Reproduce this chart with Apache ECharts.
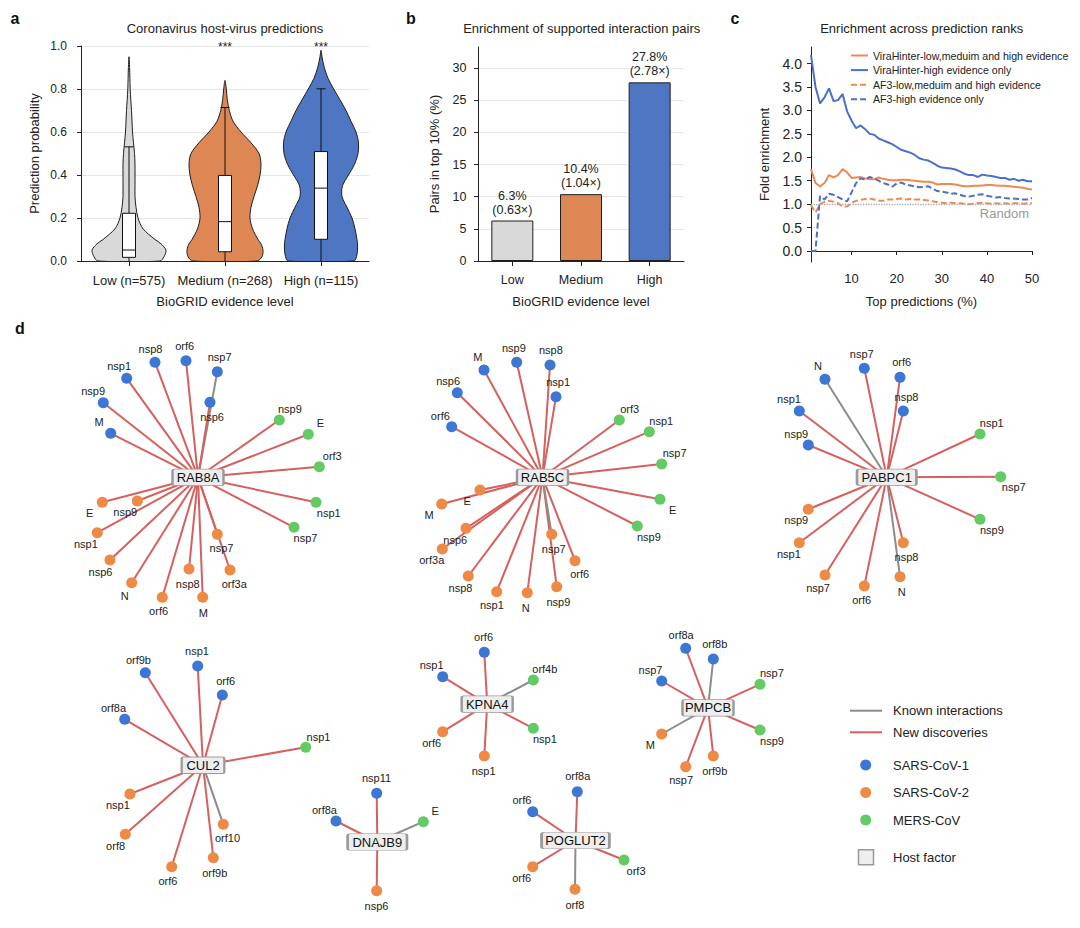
<!DOCTYPE html>
<html><head><meta charset="utf-8">
<script src="https://cdn.jsdelivr.net/npm/echarts@6/dist/echarts.min.js"></script>
<style>html,body{margin:0;padding:0;background:#fff}#c{width:1080px;height:928px}</style>
</head><body><div id="c"></div>
<script>
const FONT = '"Liberation Sans", Arial, Helvetica, sans-serif';

// ---------- Panel a data ----------
const evidenceCats = ['Low (n=575)', 'Medium (n=268)', 'High (n=115)'];
const violinLevels = [0,0.02,0.05,0.08,0.1,0.15,0.2,0.25,0.3,0.35,0.4,0.45,0.5,0.55,0.6,0.65,0.7,0.75,0.8,0.85,0.9,0.95];
const violinTop = [0.95, 0.84, 0.98];
const lowDensity    = [31,35,37,32,26,14,9,7,6,6,6,6,5.5,4.5,3.5,3,2.5,1.8,1.2,0.9,0.6,0];
const mediumDensity = [32,37,38,36,33,27.5,25,26,29,32.5,35,36,34,26,16,8,4.3,2.3,1.3,0,0,0];
const highDensity   = [33,35.5,36.5,36.5,36,34,31,26,21,21.5,27.5,33.5,37,37.5,35,30,25,19,12.7,7,3.3,1];
// [lower whisker, q1, median, q3, upper whisker]
const lowBox    = [0, 0.017, 0.051, 0.222, 0.531];
const mediumBox = [0, 0.043, 0.183, 0.398, 0.714];
const highBox   = [0, 0.101, 0.339, 0.509, 0.801];
const significance = ['', '***', '***'];

// ---------- Panel b data ----------
const barCats = ['Low', 'Medium', 'High'];
const pairsTop10 = [6.3, 10.4, 27.8];
const foldEnrich = [0.63, 1.04, 2.78];

// ---------- Panel c data ----------
const topPct = [1,2,3,4,5,6,7,8,9,10,11,12,13,14,15,16,17,18,19,20,21,22,23,24,25,26,27,28,29,30,31,32,33,34,35,36,37,38,39,40,41,42,43,44,45,46,47,48,49,50];
const viraAll  = [1.75,1.45,1.38,1.45,1.62,1.57,1.62,1.75,1.68,1.56,1.57,1.58,1.55,1.53,1.53,1.57,1.54,1.52,1.51,1.51,1.52,1.52,1.51,1.50,1.49,1.48,1.48,1.46,1.42,1.43,1.43,1.43,1.42,1.40,1.38,1.38,1.39,1.39,1.40,1.41,1.41,1.40,1.39,1.39,1.38,1.37,1.36,1.35,1.33,1.31];
const viraHigh = [4.18,3.50,3.15,3.28,3.47,3.20,3.22,3.35,2.98,2.78,2.62,2.68,2.60,2.50,2.48,2.40,2.36,2.32,2.28,2.22,2.16,2.13,2.10,2.05,1.98,1.95,1.93,1.88,1.82,1.78,1.77,1.76,1.74,1.70,1.65,1.62,1.62,1.58,1.63,1.61,1.60,1.58,1.56,1.56,1.52,1.54,1.50,1.52,1.49,1.49];
const af3All   = [0.98,0.82,1.00,1.05,1.07,1.05,1.02,0.95,0.95,1.03,1.07,1.09,1.11,1.12,1.10,1.07,1.07,1.10,1.10,1.11,1.12,1.10,1.11,1.10,1.10,1.09,1.08,1.06,1.04,1.03,1.02,1.03,1.02,1.02,1.01,1.00,1.01,1.02,1.03,1.02,1.01,1.02,1.01,1.02,1.01,1.02,1.02,1.01,1.02,1.02];
const af3High  = [0.00,0.00,1.17,1.10,1.22,1.20,1.15,1.10,1.06,1.25,1.45,1.55,1.52,1.58,1.55,1.50,1.45,1.42,1.37,1.44,1.46,1.42,1.40,1.38,1.36,1.37,1.38,1.33,1.28,1.27,1.25,1.22,1.23,1.20,1.17,1.16,1.18,1.20,1.21,1.18,1.16,1.14,1.15,1.13,1.12,1.12,1.11,1.10,1.10,1.13];
const lineNames = ['ViraHinter-low,meduim and high evidence','ViraHinter-high evidence only','AF3-low,meduim and high evidence','AF3-high evidence only'];
const randomLevel = 1.0;
const yTicksC = [0,0.5,1,1.5,2,2.5,3,3.5,4];
const xTicksC = [10,20,30,40,50];

// ---------- Panel d data ----------
const virusNames = ['SARS-CoV-1', 'SARS-CoV-2', 'MERS-CoV'];
const hubNames = ['RAB8A','RAB5C','PABPC1','CUL2','KPNA4','DNAJB9','POGLUT2','PMPCB'];
const hubX = [198, 542.5, 886.7, 203, 487.2, 377.3, 575.5, 708];
const hubY = [477.3, 477.3, 477.3, 765.3, 704.2, 842, 840.5, 707.8];
// [viral protein, virus, x, y, known(1)/new(0)]
const rab8aPartners = [
 ['nsp8','SARS-CoV-1',155,362.3,0],['orf6','SARS-CoV-1',186,360.7,0],['nsp7','SARS-CoV-1',217.3,371.7,1],
 ['nsp1','SARS-CoV-1',126.7,378.3,0],['nsp9','SARS-CoV-1',103.3,402.7,0],['M','SARS-CoV-1',110.7,433.3,0],
 ['nsp6','SARS-CoV-1',210,402.3,0],
 ['nsp9','MERS-CoV',279.3,420,0],['E','MERS-CoV',308.3,434.3,0],['orf3','MERS-CoV',319.3,466.7,0],
 ['nsp1','MERS-CoV',316,502.3,0],['nsp7','MERS-CoV',294,527.3,0],
 ['E','SARS-CoV-2',102.3,502.3,0],['nsp9','SARS-CoV-2',137.3,501,0],['nsp1','SARS-CoV-2',97.3,532.7,0],
 ['nsp6','SARS-CoV-2',110,560,0],['N','SARS-CoV-2',131.7,582.7,0],['orf6','SARS-CoV-2',162.3,597.3,0],
 ['nsp8','SARS-CoV-2',189,569,0],['M','SARS-CoV-2',202.7,597.3,0],['nsp7','SARS-CoV-2',217.3,534.3,0],
 ['orf3a','SARS-CoV-2',230,570,0]
];
const rab5cPartners = [
 ['M','SARS-CoV-1',484,370,0],['nsp9','SARS-CoV-1',516.7,362.3,0],['nsp8','SARS-CoV-1',550,365,0],
 ['nsp1','SARS-CoV-1',556,396.7,0],['nsp6','SARS-CoV-1',457.3,392.7,0],['orf6','SARS-CoV-1',451.7,426.7,0],
 ['orf3','MERS-CoV',619.3,420,0],['nsp1','MERS-CoV',649.3,431.7,0],['nsp7','MERS-CoV',661.7,464,0],
 ['E','MERS-CoV',660,499.3,0],['nsp9','MERS-CoV',637.3,526,0],
 ['E','SARS-CoV-2',480,490,0],['M','SARS-CoV-2',441.7,504,0],['nsp6','SARS-CoV-2',466,528.3,0],
 ['orf3a','SARS-CoV-2',442.3,549,0],['nsp8','SARS-CoV-2',468.3,576,0],['nsp1','SARS-CoV-2',496.7,591.7,0],
 ['N','SARS-CoV-2',527.3,592.7,0],['nsp9','SARS-CoV-2',556.7,586.7,0],['nsp7','SARS-CoV-2',551.7,534.3,1],
 ['orf6','SARS-CoV-2',575,560.7,0]
];
const pabpc1Partners = [
 ['N','SARS-CoV-1',825,379.3,1],['nsp7','SARS-CoV-1',864.3,368.3,0],['orf6','SARS-CoV-1',900,377.3,0],
 ['nsp8','SARS-CoV-1',903.3,411,0],['nsp1','SARS-CoV-1',799.3,411,0],['nsp9','SARS-CoV-1',808.3,445,0],
 ['nsp1','MERS-CoV',980,434,0],['nsp7','MERS-CoV',1000.7,476.7,0],['nsp9','MERS-CoV',980,519.3,0],
 ['nsp9','SARS-CoV-2',808.3,509.3,0],['nsp1','SARS-CoV-2',799.3,542.7,0],['nsp7','SARS-CoV-2',825,575,0],
 ['orf6','SARS-CoV-2',864.3,586,0],['N','SARS-CoV-2',900,576.7,1],['nsp8','SARS-CoV-2',903.3,542.7,0]
];
const cul2Partners = [
 ['orf9b','SARS-CoV-1',145.3,672.7,0],['nsp1','SARS-CoV-1',197.7,666,0],['orf6','SARS-CoV-1',222.3,695,0],
 ['orf8a','SARS-CoV-1',124.7,719.3,0],['nsp1','MERS-CoV',305.7,747.3,0],
 ['nsp1','SARS-CoV-2',130,794,0],['orf8','SARS-CoV-2',125.3,834.3,0],['orf6','SARS-CoV-2',171.7,866.7,0],
 ['orf9b','SARS-CoV-2',213.3,857.7,0],['orf10','SARS-CoV-2',223.3,824.3,1]
];
const kpna4Partners = [
 ['orf6','SARS-CoV-1',484.3,652.3,0],['nsp1','SARS-CoV-1',442.7,676.7,0],['orf4b','MERS-CoV',533.3,680,1],
 ['nsp1','MERS-CoV',533.3,728.3,0],['orf6','SARS-CoV-2',442.7,731.7,0],['nsp1','SARS-CoV-2',484.3,756,0]
];
const dnajb9Partners = [
 ['nsp11','SARS-CoV-1',376.7,793.3,0],['orf8a','SARS-CoV-1',336,821,0],['E','MERS-CoV',423.3,821.7,1],
 ['nsp6','SARS-CoV-2',376.7,890.7,0]
];
const poglut2Partners = [
 ['orf8a','SARS-CoV-1',577.3,791.7,0],['orf6','SARS-CoV-1',532.7,811.7,0],['orf3','MERS-CoV',624,860,0],
 ['orf6','SARS-CoV-2',532.7,866.7,0],['orf8','SARS-CoV-2',575,889.3,1]
];
const pmpcbPartners = [
 ['orf8a','SARS-CoV-1',685.7,648.3,0],['orf8b','SARS-CoV-1',713.3,659,1],['nsp7','SARS-CoV-1',661.7,681,0],
 ['nsp7','MERS-CoV',760,684.3,0],['nsp9','MERS-CoV',760,730,0],['M','SARS-CoV-2',661.7,734,1],
 ['nsp7','SARS-CoV-2',685.7,766.7,0],['orf9b','SARS-CoV-2',713.3,756,0]
];
const partnerLists = [rab8aPartners, rab5cPartners, pabpc1Partners, cul2Partners, kpna4Partners, dnajb9Partners, poglut2Partners, pmpcbPartners];
const labelFlip = ['RAB8A/nsp6/SARS-CoV-1', 'PABPC1/nsp7/MERS-CoV'];

// ---------- styles ----------
const violinColors = ['#d9d9d9', '#dd8754', '#4f76c2'];
const lineColors = ['#ee8a4e', '#4a70cc', '#ee8a4e', '#4a70cc'];
const virusColors = {'SARS-CoV-1': '#3d77d6', 'SARS-CoV-2': '#ee8a45', 'MERS-CoV': '#63cb63'};
const knownColor = '#8c8c8c', newColor = '#d6605e';
const INK = '#222';
const violinDensity = [lowDensity, mediumDensity, highDensity];
const boxStats = [lowBox, mediumBox, highBox];
const DENS_PX_PER_BAND = 96;
const HUB_SYMBOL = 'path://M2,0L48,0Q50,0 50,2L50,14Q50,16 48,16L2,16Q0,16 0,14L0,2Q0,0 2,0Z';

const chart = echarts.init(document.getElementById('c'), null, {renderer: 'svg', width: 1080, height: 928});

const axisLine = {show: true, lineStyle: {color: INK, width: 1}};
const axisTick = (extra) => Object.assign({show: true, length: 4, inside: false, lineStyle: {color: INK}}, extra || {});
const lbl = (size, extra) => Object.assign({color: INK, fontSize: size, fontFamily: FONT}, extra || {});
const nameStyle = {color: INK, fontSize: 13, fontFamily: FONT};

// ---------- graph nodes/links ----------
const nodes = [], links = [];
hubNames.forEach((h, k) => {
  const hi = nodes.length;
  nodes.push({
    id: 'hub' + k, name: h, value: [hubX[k], hubY[k]], symbol: HUB_SYMBOL, symbolKeepAspect: false,
    symbolSize: [8.4 * h.length + 9, 16.5],
    itemStyle: {color: '#eeeeee', borderColor: '#9a9a9a', borderWidth: 1.4},
    label: {show: true, position: 'inside', fontSize: 13, color: '#111', fontFamily: FONT}
  });
  partnerLists[k].forEach((p, j) => {
    const [prot, virus, x, y, known] = p;
    const dx = x - hubX[k], dy = y - hubY[k];
    const ux = dx / Math.hypot(dx, dy);
    let below = dy > 0;
    if (labelFlip.includes(h + '/' + prot + '/' + virus)) below = !below;
    const off = [13 * ux, (below ? 1 : -1) * (15.5 - 5 * Math.abs(ux))];
    nodes.push({
      id: k + '-' + j, name: prot, value: [x, y], symbol: 'circle', symbolSize: 11,
      itemStyle: {color: virusColors[virus]},
      label: {show: true, position: 'inside', offset: off, fontSize: 11, color: INK, fontFamily: FONT}
    });
    links.push({source: hi, target: nodes.length - 1,
      lineStyle: {color: known ? knownColor : newColor, width: 2, opacity: 1}});
  });
});

// ---------- legend for d (graphic) ----------
const legendD = [];
const LX = 850, TX = 893;
legendD.push({type: 'line', shape: {x1: LX, y1: 710.7, x2: LX + 32, y2: 710.7}, style: {stroke: knownColor, lineWidth: 2}});
legendD.push({type: 'text', x: TX, y: 710.7, style: {text: 'Known interactions', fill: INK, fontSize: 13, fontFamily: FONT, verticalAlign: 'middle'}});
legendD.push({type: 'line', shape: {x1: LX, y1: 732.3, x2: LX + 32, y2: 732.3}, style: {stroke: newColor, lineWidth: 2}});
legendD.push({type: 'text', x: TX, y: 732.3, style: {text: 'New discoveries', fill: INK, fontSize: 13, fontFamily: FONT, verticalAlign: 'middle'}});
virusNames.forEach((v, i) => {
  const yy = 765 + i * 27.5;
  legendD.push({type: 'circle', shape: {cx: 865.7, cy: yy, r: 5.5}, style: {fill: virusColors[v]}});
  legendD.push({type: 'text', x: TX, y: yy, style: {text: v, fill: INK, fontSize: 13, fontFamily: FONT, verticalAlign: 'middle'}});
});
legendD.push({type: 'rect', shape: {x: 858.5, y: 849.8, width: 15, height: 15}, style: {fill: '#eeeeee', stroke: '#9a9a9a', lineWidth: 1.5}});
legendD.push({type: 'text', x: TX, y: 857.3, style: {text: 'Host factor', fill: INK, fontSize: 13, fontFamily: FONT, verticalAlign: 'middle'}});

const letters = [['a', 15, 18], ['b', 411, 18], ['c', 735, 18], ['d', 20, 328]].map(([t, x, y]) => ({
  type: 'text', x: x, y: y, style: {text: t, fill: '#111', fontSize: 16, fontWeight: 'bold', fontFamily: FONT, align: 'center', verticalAlign: 'middle'}
}));

const titleStyle = {color: INK, fontSize: 13, fontWeight: 'normal', fontFamily: FONT};

const option = {
  backgroundColor: '#ffffff',
  animation: false,
  textStyle: {fontFamily: FONT},
  title: [
    {text: 'Coronavirus host-virus predictions', left: 225, top: 22, padding: 0, textAlign: 'center', textStyle: titleStyle},
    {text: 'Enrichment of supported interaction pairs', left: 581.7, top: 22, padding: 0, textAlign: 'center', textStyle: titleStyle},
    {text: 'Enrichment across prediction ranks', left: 921.7, top: 22, padding: 0, textAlign: 'center', textStyle: titleStyle}
  ],
  legend: {
    data: lineNames, orient: 'vertical', left: 850, top: 50, itemWidth: 17, itemHeight: 10, itemGap: 3.6,
    itemStyle: {color: 'rgba(0,0,0,0)', borderWidth: 0, opacity: 0},
    textStyle: {color: INK, fontSize: 10.6, fontFamily: FONT}, padding: 0
  },
  grid: [
    {left: 81, top: 46, width: 288, height: 215, outerBoundsMode: 'none', containLabel: false},
    {left: 478, top: 47, width: 206, height: 214, outerBoundsMode: 'none', containLabel: false},
    {left: 811, top: 47, width: 221, height: 215, outerBoundsMode: 'none', containLabel: false},
    {left: 0, top: 0, width: 1080, height: 928, outerBoundsMode: 'none', containLabel: false}
  ],
  xAxis: [
    {type: 'category', gridIndex: 0, data: evidenceCats, axisLine, axisTick: axisTick({alignWithLabel: true, length: 5}),
     axisLabel: lbl(13, {margin: 13, interval: 0, hideOverlap: false}), splitLine: {show: false},
     name: 'BioGRID evidence level', nameLocation: 'middle', nameGap: 34, nameTextStyle: nameStyle},
    {type: 'category', gridIndex: 1, data: barCats, axisLine, axisTick: axisTick({alignWithLabel: true, length: 5}),
     axisLabel: lbl(12.5, {margin: 12, interval: 0}), splitLine: {show: false},
     name: 'BioGRID evidence level', nameLocation: 'middle', nameGap: 34, nameTextStyle: nameStyle},
    {type: 'value', gridIndex: 2, min: 1, max: 50, axisLine, axisTick: axisTick({customValues: xTicksC}),
     axisLabel: lbl(13, {margin: 10, customValues: xTicksC}), splitLine: {show: false},
     name: 'Top predictions (%)', nameLocation: 'middle', nameGap: 33, nameTextStyle: nameStyle},
    {type: 'value', gridIndex: 3, min: 0, max: 1080, show: false}
  ],
  yAxis: [
    {type: 'value', gridIndex: 0, min: 0, max: 1, interval: 0.2, axisLine, axisTick: axisTick(),
     axisLabel: lbl(12, {margin: 14, formatter: v => v.toFixed(1)}),
     splitLine: {show: true, lineStyle: {color: '#e6e6e6', width: 1}},
     name: 'Prediction probability', nameLocation: 'middle', nameGap: 40, nameRotate: 90, nameTextStyle: nameStyle},
    {type: 'value', gridIndex: 1, min: 0, max: 33.3, axisLine, axisTick: axisTick({customValues: [0,5,10,15,20,25,30]}),
     axisLabel: lbl(12.5, {margin: 11.5, customValues: [0,5,10,15,20,25,30]}),
     splitLine: {show: true, lineStyle: {color: '#e6e6e6', width: 1}},
     name: 'Pairs in top 10% (%)', nameLocation: 'middle', nameGap: 37, nameRotate: 90, nameTextStyle: nameStyle},
    {type: 'value', gridIndex: 2, min: -0.235, max: 4.354, axisLine, axisTick: axisTick({customValues: yTicksC}),
     axisLabel: lbl(14, {margin: 9, customValues: yTicksC, formatter: v => v.toFixed(1)}),
     splitLine: {show: false},
     name: 'Fold enrichment', nameLocation: 'middle', nameGap: 40, nameRotate: 90, nameTextStyle: nameStyle},
    {type: 'value', gridIndex: 3, min: 0, max: 928, inverse: true, show: false}
  ],
  graphic: letters.concat(legendD),
  series: [
    {
      type: 'custom', name: 'violin', xAxisIndex: 0, yAxisIndex: 0, clip: true,
      data: evidenceCats.map((c, i) => [i, 0]),
      encode: {x: 0, y: 1},
      renderItem: (params, api) => {
        const i = api.value(0);
        const dens = violinDensity[i];
        const top = violinTop[i];
        const band = api.size([1, 0])[0];
        const cx = api.coord([i, 0])[0];
        const right = [], left = [];
        violinLevels.forEach((lv, k) => {
          if (lv >= top) return;
          const hw = dens[k] / DENS_PX_PER_BAND * band;
          const yy = api.coord([i, lv])[1];
          right.push([cx + hw, yy]);
          left.push([cx - hw, yy]);
        });
        const pts = right.concat([[cx, api.coord([i, top])[1]]]).concat(left.reverse());
        return {type: 'polygon', shape: {points: pts, smooth: 0.3},
          style: {fill: violinColors[i], stroke: '#1e1e1e', lineWidth: 1}};
      }
    },
    {
      type: 'custom', name: 'box', xAxisIndex: 0, yAxisIndex: 0, clip: false,
      data: evidenceCats.map((c, i) => [i, 0]),
      encode: {x: 0, y: 1},
      renderItem: (params, api) => {
        const i = api.value(0);
        const [mn, q1, md, q3, mx] = boxStats[i];
        const cx = api.coord([i, 0])[0];
        const Y = v => api.coord([i, v])[1];
        const bw = 13, cap = 9;
        const st = {stroke: '#111', lineWidth: 1, fill: null};
        return {type: 'group', children: [
          {type: 'line', shape: {x1: cx, y1: Y(mn), x2: cx, y2: Y(q1)}, style: st},
          {type: 'line', shape: {x1: cx, y1: Y(q3), x2: cx, y2: Y(mx)}, style: st},
          {type: 'line', shape: {x1: cx - cap / 2, y1: Y(mx), x2: cx + cap / 2, y2: Y(mx)}, style: st},
          {type: 'rect', shape: {x: cx - bw / 2, y: Y(q3), width: bw, height: Y(q1) - Y(q3)}, style: {fill: '#fff', stroke: '#111', lineWidth: 1}},
          {type: 'line', shape: {x1: cx - bw / 2, y1: Y(md), x2: cx + bw / 2, y2: Y(md)}, style: st},
          {type: 'text', x: cx, y: Y(1) + 0.5, style: {text: significance[i], fill: INK, fontSize: 12, fontFamily: FONT, align: 'center', verticalAlign: 'middle'}}
        ]};
      }
    },
    {
      type: 'bar', name: 'pairs', xAxisIndex: 1, yAxisIndex: 1, barWidth: 42,
      data: pairsTop10.map((v, i) => ({value: v, itemStyle: {color: violinColors[i]}})),
      itemStyle: {borderColor: '#1e1e1e', borderWidth: 1},
      label: {show: true, position: 'top', distance: 4, color: INK, fontSize: 12.5, lineHeight: 14, fontFamily: FONT,
        formatter: p => pairsTop10[p.dataIndex].toFixed(1) + '%\n(' + foldEnrich[p.dataIndex].toFixed(2) + '×)'}
    },
    {
      type: 'line', name: 'Random', xAxisIndex: 2, yAxisIndex: 2, data: [], silent: true,
      markLine: {silent: true, symbol: ['none', 'none'], animation: false,
        data: [{yAxis: randomLevel}],
        lineStyle: {color: '#aaaaaa', type: 'dotted', width: 1.3},
        label: {show: true, formatter: 'Random', position: 'insideEndBottom', color: '#999', fontSize: 13, fontFamily: FONT, distance: 3}}
    },
    ...[viraAll, viraHigh, af3All, af3High].map((arr, s) => ({
      type: 'line', name: lineNames[s], xAxisIndex: 2, yAxisIndex: 2, showSymbol: false, symbol: 'none',
      data: topPct.map((x, i) => [x, arr[i]]),
      lineStyle: {color: lineColors[s], width: 2, type: s >= 2 ? [6, 3] : 'solid'},
      itemStyle: {color: lineColors[s]}, z: 3
    })),
    {
      type: 'graph', coordinateSystem: 'cartesian2d', xAxisIndex: 3, yAxisIndex: 3, layout: 'none', roam: false,
      data: nodes, links: links, edgeSymbol: ['none', 'none'],
      lineStyle: {width: 2, opacity: 1, curveness: 0},
      emphasis: {disabled: true}, z: 5
    }
  ]
};
chart.setOption(option);
</script>
</body></html>
